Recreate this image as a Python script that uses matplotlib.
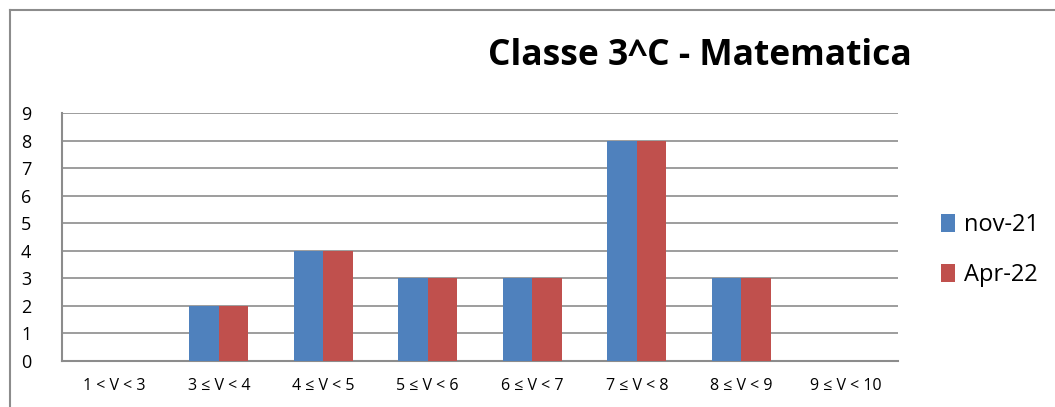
import numpy as np
import matplotlib.pyplot as plt
from matplotlib.lines import Line2D

# Dati del grafico
categorie = ["1 < V < 3", "3 ≤ V < 4", "4 ≤ V < 5", "5 ≤ V < 6",
             "6 ≤ V < 7", "7 ≤ V < 8", "8 ≤ V < 9", "9 ≤ V < 10"]
nov_21 = [0, 2, 4, 3, 3, 8, 3, 0]
apr_22 = [0, 2, 4, 3, 3, 8, 3, 0]
etichette = ["nov-21", "Apr-22"]
colori = ["#4f81bd", "#c0504d"]

plt.rcParams['font.family'] = ['Open Sans', 'DejaVu Sans']

fig = plt.figure(figsize=(10.55, 4.07), dpi=100)
ax = fig.add_axes([62 / 1055, 46 / 407, (898 - 62) / 1055, (361 - 113) / 407])

x = np.arange(len(categorie))
w = 0.28
ax.bar(x - w / 2, nov_21, w, color=colori[0], label=etichette[0], zorder=3)
ax.bar(x + w / 2, apr_22, w, color=colori[1], label=etichette[1], zorder=3)

ax.set_xlim(-0.5, len(categorie) - 0.5)
ax.set_ylim(0, 9)
ax.set_yticks(range(10))
ax.set_xticks(x)
ax.set_xticklabels(categorie, fontsize=11.5)
ax.tick_params(axis='x', length=0, pad=12)
ax.tick_params(axis='y', length=0, labelsize=13, pad=22)
ax.grid(axis='y', color='#8c8c8c', linewidth=1.2, zorder=0)
for s in ["top", "right"]:
    ax.spines[s].set_visible(False)
for s in ["left", "bottom"]:
    ax.spines[s].set_color('#8c8c8c')
    ax.spines[s].set_linewidth(1.5)

fig.text(700 / 1055, 1 - 56 / 407, "Classe 3^C - Matematica", fontsize=25.5,
         fontweight='bold', ha='center', va='center')

fig.legend(loc='center left', bbox_to_anchor=(920 / 1055, 1 - 250 / 407),
           frameon=False, fontsize=17, handlelength=0.6, handleheight=0.8,
           handletextpad=0.35, labelspacing=1.1)

# cornice esterna del grafico
fig.add_artist(Line2D([10 / 1055, 10 / 1055], [0, 1 - 10 / 407], color='#8c8c8c', lw=1.5))
fig.add_artist(Line2D([10 / 1055, 1], [1 - 10 / 407, 1 - 10 / 407], color='#8c8c8c', lw=1.5))

fig.savefig("out.png", dpi=100)
